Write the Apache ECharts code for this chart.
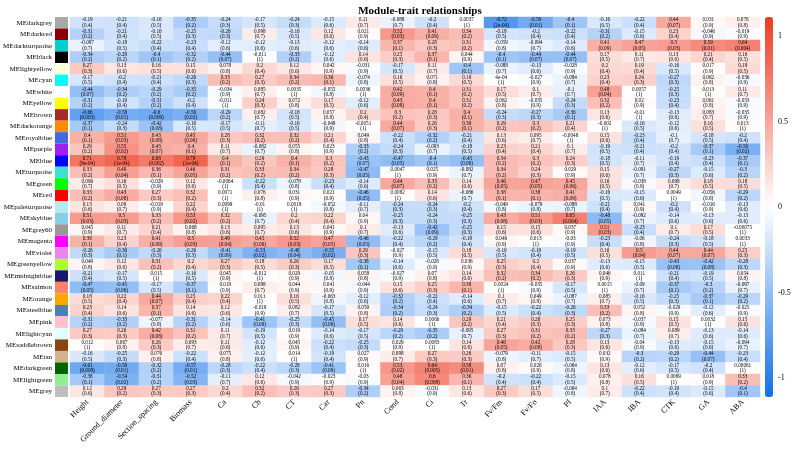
<!DOCTYPE html>
<html>
<head>
<meta charset="utf-8">
<script src="https://cdn.jsdelivr.net/npm/echarts@6/dist/echarts.min.js"></script>
<style>
  html, body { margin: 0; padding: 0; background: #fff; }
  #chart { width: 794px; height: 453px; }
</style>
</head>
<body>
<div id="chart"></div>
<script>
// traits (columns) and modules (rows)
const traits = ['Height', 'Ground_diameter', 'Section_spacing', 'Biomass', 'Ca', 'Cb', 'CT', 'Car', 'Pn', 'Cond',
  'Ci', 'Tr', 'Fv/Fm', 'Fv/Fo', 'PI', 'IAA', 'IBA', 'CTK', 'GA', 'ABA'];
const modules = ['MEdarkgrey', 'MEdarkred', 'MEdarkturquoise', 'MEblack', 'MElightyellow', 'MEcyan', 'MEwhite',
  'MEyellow', 'MEbrown', 'MEdarkorange', 'MEroyalblue', 'MEpurple', 'MEblue', 'MEturquoise', 'MEgreen', 'MEred',
  'MEpaleturquoise', 'MEskyblue', 'MEgrey60', 'MEmagenta', 'MEviolet', 'MEgreenyellow', 'MEmidnightblue',
  'MEsalmon', 'MEorange', 'MEsteelblue', 'MEpink', 'MElightcyan', 'MEsaddlebrown', 'MEtan', 'MEdarkgreen',
  'MElightgreen', 'MEgrey'];

// module-trait correlations, one row per module
const corr = [
  [-0.19, -0.21, -0.16, -0.35, -0.24, -0.17, -0.24, -0.15, 0.11, -0.088, -0.2, 0.0037, -0.72, -0.59, -0.4, -0.16, -0.22, 0.44, 0.031, 0.076],
  [-0.31, -0.21, -0.16, -0.25, -0.26, 0.098, -0.16, 0.12, 0.021, 0.52, 0.41, 0.34, -0.18, -0.2, -0.22, -0.31, -0.15, 0.23, -0.046, -0.019],
  [-0.097, -0.18, -0.22, -0.23, -0.12, -0.12, -0.13, -0.12, -0.14, 0.37, 0.28, 0.31, -0.059, -0.094, -0.14, 0.41, 0.47, 0.5, 0.59, 0.64],
  [-0.34, -0.29, -0.4, -0.32, -0.44, -0.011, -0.33, -0.12, 0.14, 0.25, 0.37, 0.044, -0.4, -0.44, -0.44, 0.17, 0.11, 0.13, 0.21, 0.16],
  [0.27, 0.13, 0.16, 0.15, 0.078, 0.2, 0.12, 0.042, -0.031, -0.17, 0.11, -0.4, -0.088, -0.13, -0.028, 0.2, 0.19, -0.16, 0.017, 0.19],
  [-0.17, -0.2, -0.21, -0.26, 0.33, 0.27, 0.34, 0.36, -0.074, 0.16, 0.071, 0.19, 4e-4, -0.027, -0.084, 0.23, 0.24, -0.27, 0.062, -0.036],
  [-0.44, -0.34, -0.29, -0.35, -0.034, 0.085, 0.0035, -0.055, 0.0036, 0.42, 0.4, 0.31, 0.17, 0.1, -0.1, 0.48, 0.0057, -0.25, 0.013, 0.11],
  [-0.31, -0.19, -0.31, -0.2, -0.011, 0.24, 0.072, 0.17, -0.12, 0.43, 0.4, 0.31, 0.062, -0.035, -0.24, 0.32, 0.02, -0.23, 0.061, -0.033],
  [-0.66, -0.58, -0.6, -0.56, -0.29, 0.082, -0.18, 0.057, 0.2, 0.3, 0.28, 0.4, -0.24, -0.27, -0.36, 0.13, -0.01, -0.13, 0.083, -0.035],
  [-0.37, -0.24, -0.42, -0.16, -0.17, -0.11, -0.16, -0.048, -0.0051, 0.44, 0.26, 0.39, 0.29, 0.3, 0.21, -0.002, -0.16, -0.12, 0.16, 0.013],
  [0.4, 0.51, 0.43, 0.45, 0.28, 0.32, 0.32, 0.21, 0.049, -0.22, -0.32, -0.21, 0.13, 0.095, -0.0048, 0.15, -0.23, -0.1, -0.18, -0.2],
  [0.29, 0.55, 0.43, 0.4, 0.11, -0.082, 0.055, 0.023, -0.33, -0.24, -0.093, -0.18, 0.23, 0.21, 0.1, -0.19, -0.21, -0.2, -0.37, -0.56],
  [0.71, 0.78, 0.68, 0.79, 0.4, 0.29, 0.4, 0.3, -0.43, -0.47, -0.4, -0.45, 0.34, 0.3, 0.24, -0.18, -0.11, -0.19, -0.23, -0.37],
  [0.33, 0.49, 0.36, 0.46, 0.31, 0.33, 0.34, 0.28, -0.47, 0.0047, 0.025, -0.082, 0.34, 0.24, 0.029, 0.15, -0.091, -0.27, -0.15, -0.3],
  [0.096, 0.16, -0.029, 0.12, -0.0064, -0.22, -0.078, -0.23, -0.14, 0.44, 0.33, 0.14, 0.46, 0.47, 0.45, 0.16, -0.038, 0.098, 0.18, 0.18],
  [0.33, 0.43, 0.27, 0.32, 0.0071, 0.076, 0.031, 0.021, -0.46, 0.0082, 0.14, -0.086, 0.38, 0.38, 0.41, -0.16, -0.15, 0.0049, -0.056, -0.29],
  [0.13, 0.09, -0.019, 0.22, 0.0099, -0.01, 0.0018, -0.052, -0.11, -0.24, -0.24, -0.2, -0.049, -0.079, -0.088, -0.21, 0.041, -0.2, -0.016, -0.13],
  [0.51, 0.5, 0.33, 0.53, 0.32, -0.095, 0.2, 0.22, 0.04, -0.25, -0.24, -0.25, 0.43, 0.51, 0.65, -0.48, -0.092, -0.14, -0.13, -0.13],
  [0.045, 0.11, 0.21, 0.068, 0.13, 0.095, 0.13, 0.041, 0.1, -0.13, -0.42, -0.25, 0.15, 0.15, 0.037, 0.51, -0.23, 0.1, 0.17, -0.00075],
  [0.39, 0.23, 0.41, 0.5, 0.49, 0.45, 0.52, 0.47, -0.46, -0.22, -0.29, -0.19, 0.046, 0.013, -0.03, -0.23, -0.06, -0.24, -0.18, 0.0033],
  [-0.26, -0.36, -0.26, -0.26, -0.41, -0.53, -0.48, -0.55, 0.29, -0.027, -0.15, 0.18, -0.16, -0.19, -0.19, 0.16, 0.5, 0.44, 0.44, 0.25],
  [0.049, 0.12, 0.31, 0.2, 0.27, 0.18, 0.26, 0.17, -0.38, -0.14, -0.028, 0.036, 0.25, 0.2, 0.037, -0.13, -0.15, -0.43, -0.42, -0.28],
  [-0.21, -0.17, 0.015, -0.16, 0.045, -0.012, 0.029, -0.05, 0.058, -0.027, 0.07, 0.14, 0.32, 0.34, 0.26, 0.046, 0.011, -0.21, -0.19, 0.054],
  [-0.47, -0.45, -0.17, -0.37, 0.019, 0.088, 0.044, 0.041, -0.044, 0.15, 0.25, 0.38, 0.0024, -0.035, -0.17, 0.0015, -0.09, -0.37, -0.3, -0.097],
  [0.18, 0.22, 0.44, 0.25, 0.22, 0.011, 0.16, -0.063, -0.12, -0.32, -0.22, -0.14, 0.1, 0.049, -0.087, 0.085, -0.16, -0.25, -0.37, -0.29],
  [0.23, 0.14, 0.37, 0.14, 0.12, -0.019, 0.082, -0.17, 0.059, -0.34, -0.24, -0.34, -0.15, -0.22, -0.26, 0.33, 0.052, -0.029, -0.12, -0.025],
  [-0.31, -0.33, -0.077, -0.31, -0.14, -0.41, -0.25, -0.45, 0.17, 0.14, 0.0066, 0.29, 0.21, 0.26, 0.25, 0.073, -0.037, 0.15, 0.0032, 0.15],
  [0.27, 0.26, 0.42, 0.31, 0.11, -0.19, 0.019, -0.14, -0.17, -0.29, -0.35, -0.095, 0.27, 0.31, 0.33, -0.27, -0.084, 0.089, -0.13, -0.14],
  [0.012, 0.067, 0.26, 0.093, 0.11, -0.12, 0.045, -0.22, -0.25, 0.029, 0.0083, 0.14, 0.46, 0.42, 0.28, 0.13, -0.04, -0.13, -0.15, -0.094],
  [-0.16, -0.25, 0.076, -0.22, 0.075, -0.12, 0.014, -0.19, 0.027, 0.098, 0.27, 0.26, -0.079, -0.11, -0.15, 0.032, -0.3, -0.29, -0.44, -0.23],
  [-0.61, -0.59, -0.32, -0.57, -0.28, -0.22, -0.28, -0.41, 0.016, 0.53, 0.64, 0.58, 0.07, 0.026, -0.064, 0.13, -0.12, -0.17, -0.2, 0.00061],
  [-0.38, -0.54, -0.31, -0.52, -0.11, 0.12, -0.042, -0.023, -0.03, 0.48, 0.6, 0.36, -0.2, -0.22, -0.15, 0.078, 0.16, 0.0069, 0.018, 0.33],
  [0.12, 0.29, 0.27, 0.27, 0.2, 0.32, 0.26, 0.27, -0.34, 0.063, -0.031, 0.13, 0.27, 0.17, -0.064, 0.1, -0.22, -0.19, -0.15, -0.4]
];

// p-values, same layout
const pval = [
  [0.4, 0.4, 0.5, 0.2, 0.3, 0.5, 0.3, 0.6, 0.7, 0.7, 0.4, 1, 2e-4, 0.01, 0.1, 0.5, 0.4, 0.07, 0.9, 0.8],
  [0.2, 0.4, 0.5, 0.3, 0.3, 0.7, 0.5, 0.6, 0.9, 0.03, 0.09, 0.2, 0.5, 0.4, 0.4, 0.2, 0.6, 0.4, 0.9, 0.9],
  [0.7, 0.5, 0.4, 0.4, 0.6, 0.6, 0.6, 0.6, 0.6, 0.1, 0.3, 0.2, 0.8, 0.7, 0.6, 0.09, 0.05, 0.03, 0.01, 0.004],
  [0.2, 0.2, 0.1, 0.2, 0.07, 1, 0.2, 0.6, 0.6, 0.3, 0.1, 0.9, 0.1, 0.07, 0.07, 0.5, 0.7, 0.6, 0.4, 0.5],
  [0.3, 0.6, 0.5, 0.6, 0.8, 0.4, 0.6, 0.9, 0.9, 0.5, 0.7, 0.1, 0.7, 0.6, 0.9, 0.4, 0.4, 0.5, 0.9, 0.5],
  [0.5, 0.4, 0.4, 0.3, 0.2, 0.3, 0.2, 0.1, 0.8, 0.5, 0.8, 0.5, 1, 0.9, 0.7, 0.4, 0.3, 0.3, 0.8, 0.9],
  [0.07, 0.2, 0.2, 0.2, 0.9, 0.7, 1, 0.8, 1, 0.09, 0.1, 0.2, 0.5, 0.7, 0.7, 0.04, 1, 0.3, 1, 0.7],
  [0.2, 0.4, 0.2, 0.4, 1, 0.3, 0.8, 0.5, 0.6, 0.08, 0.1, 0.2, 0.8, 0.9, 0.3, 0.2, 0.9, 0.4, 0.8, 0.9],
  [0.003, 0.01, 0.009, 0.02, 0.2, 0.7, 0.5, 0.8, 0.4, 0.2, 0.3, 0.1, 0.3, 0.3, 0.1, 0.6, 1, 0.6, 0.7, 0.9],
  [0.1, 0.3, 0.08, 0.5, 0.5, 0.7, 0.5, 0.9, 1, 0.07, 0.3, 0.1, 0.2, 0.2, 0.4, 1, 0.5, 0.6, 0.5, 1],
  [0.1, 0.03, 0.08, 0.06, 0.3, 0.2, 0.2, 0.4, 0.8, 0.4, 0.2, 0.4, 0.6, 0.7, 1, 0.6, 0.4, 0.7, 0.5, 0.4],
  [0.2, 0.02, 0.07, 0.1, 0.7, 0.7, 0.8, 0.9, 0.2, 0.3, 0.7, 0.5, 0.4, 0.4, 0.7, 0.5, 0.4, 0.4, 0.1, 0.02],
  [9e-4, 1e-4, 0.002, 1e-4, 0.1, 0.2, 0.1, 0.2, 0.07, 0.05, 0.1, 0.06, 0.2, 0.2, 0.3, 0.5, 0.7, 0.4, 0.4, 0.1],
  [0.2, 0.04, 0.1, 0.05, 0.2, 0.2, 0.2, 0.3, 0.05, 1, 0.9, 0.7, 0.2, 0.3, 0.9, 0.6, 0.7, 0.3, 0.6, 0.2],
  [0.7, 0.5, 0.9, 0.6, 1, 0.4, 0.8, 0.4, 0.6, 0.07, 0.2, 0.6, 0.05, 0.05, 0.06, 0.5, 0.9, 0.7, 0.5, 0.5],
  [0.2, 0.08, 0.3, 0.2, 1, 0.8, 0.9, 0.9, 0.05, 1, 0.6, 0.7, 0.1, 0.1, 0.09, 0.5, 0.6, 1, 0.8, 0.2],
  [0.6, 0.7, 0.9, 0.4, 1, 1, 1, 0.8, 0.7, 0.3, 0.3, 0.4, 0.8, 0.8, 0.7, 0.4, 0.9, 0.4, 0.9, 0.6],
  [0.03, 0.03, 0.2, 0.02, 0.2, 0.7, 0.4, 0.4, 0.9, 0.3, 0.3, 0.3, 0.08, 0.03, 0.004, 0.05, 0.7, 0.6, 0.6, 0.6],
  [0.9, 0.7, 0.4, 0.8, 0.6, 0.7, 0.6, 0.9, 0.7, 0.6, 0.09, 0.3, 0.6, 0.6, 0.9, 0.03, 0.4, 0.7, 0.5, 1],
  [0.1, 0.4, 0.09, 0.03, 0.04, 0.06, 0.03, 0.05, 0.05, 0.4, 0.2, 0.4, 0.9, 1, 0.9, 0.4, 0.8, 0.3, 0.5, 1],
  [0.3, 0.1, 0.3, 0.3, 0.09, 0.02, 0.04, 0.02, 0.3, 0.9, 0.5, 0.5, 0.5, 0.4, 0.5, 0.5, 0.04, 0.07, 0.07, 0.3],
  [0.8, 0.6, 0.2, 0.4, 0.3, 0.5, 0.3, 0.5, 0.1, 0.6, 0.9, 0.9, 0.3, 0.4, 0.9, 0.6, 0.5, 0.08, 0.08, 0.3],
  [0.4, 0.5, 1, 0.5, 0.9, 1, 0.9, 0.8, 0.8, 0.9, 0.8, 0.6, 0.2, 0.2, 0.3, 0.9, 1, 0.4, 0.5, 0.8],
  [0.05, 0.06, 0.5, 0.1, 0.9, 0.7, 0.9, 0.9, 0.9, 0.6, 0.3, 0.1, 1, 0.9, 0.5, 1, 0.7, 0.1, 0.2, 0.7],
  [0.5, 0.4, 0.07, 0.4, 0.4, 1, 0.5, 0.8, 0.6, 0.2, 0.4, 0.6, 0.7, 0.8, 0.7, 0.7, 0.5, 0.3, 0.1, 0.2],
  [0.4, 0.6, 0.1, 0.6, 0.6, 0.9, 0.7, 0.5, 0.8, 0.2, 0.3, 0.2, 0.5, 0.4, 0.3, 0.2, 0.8, 0.9, 0.6, 0.9],
  [0.2, 0.2, 0.8, 0.2, 0.6, 0.09, 0.3, 0.06, 0.5, 0.6, 1, 0.2, 0.4, 0.3, 0.3, 0.8, 0.9, 0.5, 1, 0.6],
  [0.3, 0.3, 0.08, 0.2, 0.7, 0.5, 0.9, 0.6, 0.5, 0.2, 0.2, 0.7, 0.3, 0.2, 0.2, 0.3, 0.7, 0.7, 0.6, 0.6],
  [1, 0.8, 0.3, 0.7, 0.6, 0.6, 0.9, 0.4, 0.3, 0.9, 1, 0.6, 0.05, 0.08, 0.3, 0.6, 0.9, 0.6, 0.6, 0.7],
  [0.5, 0.3, 0.8, 0.4, 0.8, 0.6, 1, 0.4, 0.9, 0.7, 0.3, 0.3, 0.8, 0.7, 0.5, 0.9, 0.2, 0.2, 0.07, 0.4],
  [0.008, 0.01, 0.2, 0.01, 0.3, 0.4, 0.3, 0.09, 1, 0.02, 0.005, 0.01, 0.8, 0.9, 0.8, 0.6, 0.6, 0.5, 0.4, 1],
  [0.1, 0.02, 0.2, 0.03, 0.7, 0.6, 0.9, 0.9, 0.9, 0.04, 0.008, 0.1, 0.4, 0.4, 0.5, 0.8, 0.5, 1, 0.9, 0.2],
  [0.6, 0.2, 0.3, 0.3, 0.4, 0.2, 0.3, 0.3, 0.2, 0.8, 0.9, 0.6, 0.3, 0.5, 0.8, 0.7, 0.4, 0.4, 0.6, 0.1]
];

const colorbarTicks = [1, 0.5, 0, -0.5, -1];

// R colour names used by the module labels
const rColors = {
  darkgrey: '#A9A9A9', darkred: '#8B0000', darkturquoise: '#00CED1', black: '#000000', lightyellow: '#FFFFE0',
  cyan: '#00FFFF', white: '#FFFFFF', yellow: '#FFFF00', brown: '#A52A2A', darkorange: '#FF8C00',
  royalblue: '#4169E1', purple: '#A020F0', blue: '#0000FF', turquoise: '#40E0D0', green: '#00FF00',
  red: '#FF0000', paleturquoise: '#AFEEEE', skyblue: '#87CEEB', grey60: '#999999', magenta: '#FF00FF',
  violet: '#EE82EE', greenyellow: '#ADFF2F', midnightblue: '#191970', salmon: '#FA8072', orange: '#FFA500',
  steelblue: '#4682B4', pink: '#FFC0CB', lightcyan: '#E0FFFF', saddlebrown: '#8B4513', tan: '#D2B48C',
  darkgreen: '#006400', lightgreen: '#90EE90', grey: '#BEBEBE'
};

// print numbers the way R does (4e-04 vs 0.0037)
function rfmt(v) {
  const fixed = String(v);
  const m = v.toExponential().match(/^(-?[\d.]+)e([+-])(\d+)$/);
  const sci = m[1] + 'e' + m[2] + m[3].padStart(2, '0');
  return sci.length < fixed.length ? sci : fixed;
}

const heatData = [];
modules.forEach((m, i) => {
  traits.forEach((t, j) => {
    heatData.push({ value: [j, i, corr[i][j]], p: pval[i][j] });
  });
});

const SERIF = '"Liberation Serif", "DejaVu Serif", serif';
const chart = echarts.init(document.getElementById('chart'));
chart.setOption({
  animation: false,
  backgroundColor: '#fff',
  title: {
    text: 'Module-trait relationships',
    left: 415,
    top: 1,
    textAlign: 'center',
    textStyle: { fontFamily: SERIF, fontSize: 11, fontWeight: 'bold', color: '#000' }
  },
  grid: [
    { left: 70, top: 17, width: 690, height: 380 },
    { left: 52, top: 17, width: 16, height: 380 },
    { left: 765, top: 17, width: 8, height: 380 }
  ],
  xAxis: [
    {
      gridIndex: 0, type: 'category', data: traits,
      axisLine: { show: false }, axisTick: { show: false },
      axisLabel: { interval: 0, rotate: 45, margin: 4, fontSize: 8, fontFamily: SERIF, color: '#000' }
    },
    { gridIndex: 1, type: 'category', data: ['c'], show: false },
    { gridIndex: 2, type: 'value', show: false }
  ],
  yAxis: [
    { gridIndex: 0, type: 'category', data: modules, inverse: true, show: false },
    {
      gridIndex: 1, type: 'category', data: modules, inverse: true,
      axisLine: { show: false }, axisTick: { show: false },
      axisLabel: { interval: 0, margin: 3, fontSize: 7, fontFamily: SERIF, color: '#000' }
    },
    {
      gridIndex: 2, type: 'value', min: -1.111, max: 1.111, position: 'right',
      axisLine: { show: false }, splitLine: { show: false },
      axisTick: { show: true, length: 3, customValues: colorbarTicks, lineStyle: { color: '#000' } },
      axisLabel: { customValues: colorbarTicks, margin: 5, fontSize: 8, fontFamily: SERIF, color: '#000' }
    }
  ],
  visualMap: {
    type: 'continuous',
    seriesIndex: 0,
    min: -1, max: 1,
    calculable: false,
    left: 765, top: 17,
    itemWidth: 8, itemHeight: 380,
    padding: 0,
    inRange: { color: ['#1170E8', '#FFFFFF', '#EE3B22'] }
  },
  series: [
    {
      type: 'heatmap',
      xAxisIndex: 0, yAxisIndex: 0,
      data: heatData,
      emphasis: { disabled: true },
      label: {
        show: true,
        fontSize: 5.2,
        lineHeight: 5.4,
        fontFamily: SERIF,
        color: '#000',
        formatter: (p) => rfmt(p.value[2]) + '\n(' + rfmt(p.data.p) + ')'
      }
    },
    {
      type: 'custom',
      xAxisIndex: 1, yAxisIndex: 1,
      data: modules.map((m, i) => ({ value: [0, i], itemStyle: { color: rColors[m.slice(2)] } })),
      renderItem: (params, api) => {
        const c = api.coord([0, api.value(1)]);
        const s = api.size([1, 1]);
        return {
          type: 'rect',
          shape: { x: c[0] - s[0] / 2, y: c[1] - s[1] / 2, width: s[0], height: s[1] },
          style: { fill: api.visual('color') }
        };
      }
    }
  ]
});
</script>
</body>
</html>
